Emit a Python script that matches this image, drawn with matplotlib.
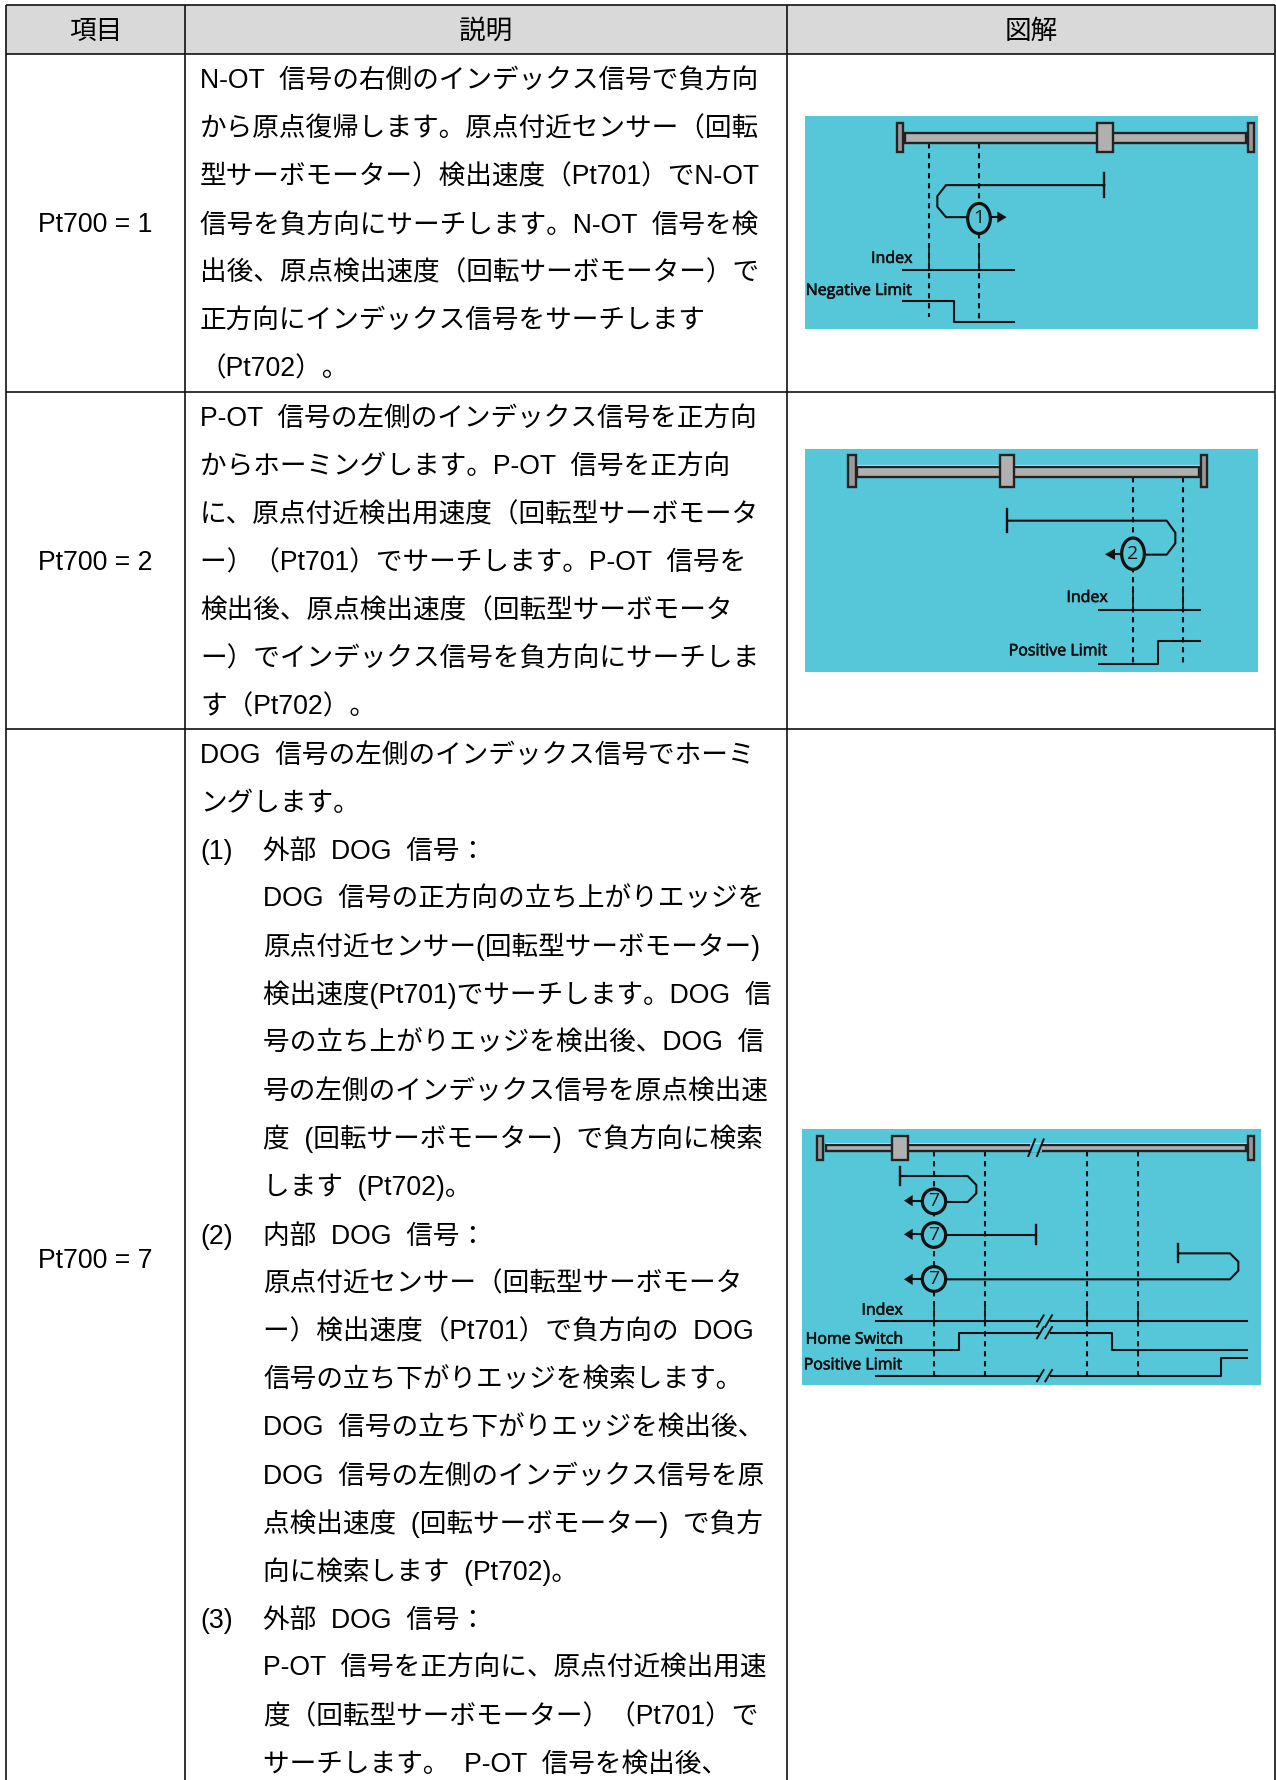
import matplotlib
matplotlib.use("Agg")
import matplotlib.pyplot as plt
import matplotlib.patheffects as pe
from matplotlib.patches import Ellipse, Polygon, Rectangle

plt.rcParams['font.family'] = ['Liberation Sans', 'Noto Sans CJK JP', 'DejaVu Sans']

W, H = 1276, 1780
BG = '#56C7D9'
INK = '#111111'

# table
headers = ['項目', '説明', '図解']
items = ['Pt700 = 1', 'Pt700 = 2', 'Pt700 = 7']
col_edges = [6, 185, 787, 1275]
row_edges = [5, 54, 392, 729]
item_y = [223, 561, 1259]
line_start = [79, 417, 754]

# "\t" separates a list marker from the indented text
row1 = ['N-OT  信号の右側のインデックス信号で負方向',
        'から原点復帰します。原点付近センサー（回転',
        '型サーボモーター）検出速度（Pt701）でN-OT',
        '信号を負方向にサーチします。N-OT  信号を検',
        '出後、原点検出速度（回転サーボモーター）で',
        '正方向にインデックス信号をサーチします',
        '（Pt702）。']
row2 = ['P-OT  信号の左側のインデックス信号を正方向',
        'からホーミングします。P-OT  信号を正方向',
        'に、原点付近検出用速度（回転型サーボモータ',
        'ー）（Pt701）でサーチします。P-OT  信号を',
        '検出後、原点検出速度（回転型サーボモータ',
        'ー）でインデックス信号を負方向にサーチしま',
        'す（Pt702）。']
row3 = ['DOG  信号の左側のインデックス信号でホーミ',
        'ングします。',
        '(1)\t外部  DOG  信号：',
        '\tDOG  信号の正方向の立ち上がりエッジを',
        '\t原点付近センサー(回転型サーボモーター)',
        '\t検出速度(Pt701)でサーチします。DOG  信',
        '\t号の立ち上がりエッジを検出後、DOG  信',
        '\t号の左側のインデックス信号を原点検出速',
        '\t度  (回転サーボモーター)  で負方向に検索',
        '\tします  (Pt702)。',
        '(2)\t内部  DOG  信号：',
        '\t原点付近センサー（回転型サーボモータ',
        '\tー）検出速度（Pt701）で負方向の  DOG',
        '\t信号の立ち下がりエッジを検索します。',
        '\tDOG  信号の立ち下がりエッジを検出後、',
        '\tDOG  信号の左側のインデックス信号を原',
        '\t点検出速度  (回転サーボモーター)  で負方',
        '\t向に検索します  (Pt702)。',
        '(3)\t外部  DOG  信号：',
        '\tP-OT  信号を正方向に、原点付近検出用速',
        '\t度（回転型サーボモーター）（Pt701）で',
        '\tサーチします。  P-OT  信号を検出後、']
rows = [row1, row2, row3]

# diagram 1, in units of 1/3 reference pixel
d1 = dict(
    box=[805, 116, 1258, 329], xlim=(45, 1404), ylim=(686, 48),
    rail=(346, 1367, 100, 128), stops=[(320, 338), (1373, 1391)], stop_y=(68, 156),
    carriage=(920, 968), dash_x=[417, 568], dash_y=[(128, 650), (128, 655)],
    paths=[[(943, 255), (468, 255), (442, 288), (442, 320), (468, 351), (535, 351)]],
    ticks=[(943, 220, 290)],
    circles=[(567, 355, 34, 45)], number='1',
    arrows=[(600, 351, 622, 650)],
    index_x=[417, 568], index_y=(445, 510),
    signals=[[(340, 510), (672, 510)],
             [(340, 603), (492, 603), (492, 664), (672, 664)]],
    labels=[('Index', 367, 476), ('Negative Limit', 367, 572)],
    slashes=[],
)
# diagram 2
d2 = dict(
    box=[805, 449, 1258, 672], xlim=(45, 1404), ylim=(726, 57),
    rail=(201, 1226, 111, 140), stops=[(175, 198), (1233, 1252)], stop_y=(76, 170),
    carriage=(629, 672), dash_x=[1029, 1180], dash_y=[(140, 705), (140, 705)],
    paths=[[(651, 272), (1130, 272), (1156, 308), (1156, 340), (1130, 374), (1064, 374)]],
    ticks=[(651, 236, 307)],
    circles=[(1029, 371, 34, 47)], number='2',
    arrows=[(995, 373, 975, 945)],
    index_x=[1029, 1180], index_y=(472, 541),
    signals=[[(927, 541), (1230, 541)],
             [(927, 703), (1105, 703), (1105, 634), (1230, 634)]],
    labels=[('Index', 953, 504), ('Positive Limit', 953, 664)],
    slashes=[],
)
# diagram 3
d3 = dict(
    box=[802, 1129, 1261, 1385], xlim=(36, 1413), ylim=(825, 57),
    rail=(108, 1367, 105, 122), stops=[(81, 100), (1374, 1392)], stop_y=(78, 150),
    carriage=(307, 355), dash_x=[431, 584, 890, 1043],
    dash_y=[(122, 795), (122, 795), (122, 795), (122, 795)],
    paths=[[(330, 198), (533, 198), (559, 225), (559, 250), (533, 276), (468, 276)],
           [(468, 374), (738, 374)],
           [(1165, 430), (1320, 430), (1345, 455), (1345, 482), (1320, 508), (468, 508)]],
    ticks=[(330, 172, 225), (738, 345, 402), (1165, 403, 456)],
    circles=[(432, 274, 35, 37), (432, 375, 35, 37), (432, 507, 35, 37)], number='7',
    arrows=[(398, 272, 368, 342), (398, 373, 368, 342), (398, 508, 368, 342)],
    index_x=[431, 584, 890, 1043], index_y=(578, 633),
    signals=[[(258, 633), (1372, 633)],
             [(258, 719), (508, 719), (508, 668), (966, 668), (966, 719), (1372, 719)],
             [(258, 797), (1293, 797), (1293, 745), (1372, 745)]],
    labels=[('Index', 338, 602), ('Home Switch', 340, 689), ('Positive Limit', 338, 766)],
    # gap x0, gap x1, y, slash half height
    slashes=[(725, 751, 113, 25), (751, 776, 633, 17), (751, 776, 668, 17), (751, 776, 797, 17)],
)
diagrams = [d1, d2, d3]


def draw_diagram(fig, d):
    x0, y0, x1, y1 = d['box']
    ax = fig.add_axes([x0 / W, 1 - y1 / H, (x1 - x0) / W, (y1 - y0) / H])
    ax.set_xlim(*d['xlim'])
    ax.set_ylim(*d['ylim'])
    ax.set_facecolor(BG)
    ax.set_xticks([])
    ax.set_yticks([])
    for s in ax.spines.values():
        s.set_visible(False)
    bold = [pe.withStroke(linewidth=0.45, foreground=INK)]

    def box(a, b, c, e, fc, z=3):
        ax.add_patch(Rectangle((a, c), b - a, e - c, fc=fc, ec='#222222', lw=1.7, zorder=z))

    xa, xb, ya, yb = d['rail']
    box(xa, xb, ya, yb, '#B0B0B0')
    ax.plot([xa, xb], [ya - 5, ya - 5], color='#E8F4F6', lw=0.8, zorder=2)
    for a, b in d['stops']:
        box(a, b, d['stop_y'][0], d['stop_y'][1], '#9A9A9A')
    box(d['carriage'][0], d['carriage'][1], d['stop_y'][0], d['stop_y'][1], '#B0B0B0', z=4)

    for x, (a, b) in zip(d['dash_x'], d['dash_y']):
        ax.plot([x, x], [a, b], color=INK, lw=1.5, ls=(0, (2.6, 2.2)), zorder=1)
    for p in d['paths']:
        ax.plot(*zip(*p), color=INK, lw=1.5, zorder=2)
    for x, a, b in d['ticks']:
        ax.plot([x, x], [a, b], color=INK, lw=1.7, zorder=2)
    for x in d['index_x']:
        ax.plot([x, x], d['index_y'], color=INK, lw=1.2, zorder=2)
    for p in d['signals']:
        ax.plot(*zip(*p), color=INK, lw=1.5, zorder=2)
    for cx, cy, rx, ry in d['circles']:
        ax.add_patch(Ellipse((cx, cy), 2 * rx, 2 * ry, fc=BG, ec=INK, lw=2.3, zorder=3))
        ax.text(cx, cy, d['number'], ha='center', va='center', fontsize=14,
                family='Open Sans', color=INK, zorder=4)
    for xs, y, xh, xt in d['arrows']:
        ax.plot([xs, xh], [y, y], color=INK, lw=1.5, zorder=2)
        ax.add_patch(Polygon([(xh, y - 17), (xh, y + 17), (xt, y)], fc=INK, ec='none', zorder=3))
    for text, x, y in d['labels']:
        ax.text(x, y, text, ha='right', va='center', fontsize=11.5,
                family='Open Sans', color=INK, path_effects=bold)
    for a, b, y, h in d['slashes']:
        ax.add_patch(Rectangle((a - 5, y - 12), b - a + 10, 24, fc=BG, ec='none', zorder=5))
        for x in (a, b):
            ax.plot([x - 10, x + 10], [y + h, y - h], color=INK, lw=1.4, zorder=6)


fig = plt.figure(figsize=(W / 100, H / 100), dpi=100, facecolor='white')
ax = fig.add_axes([0, 0, 1, 1])
ax.set_xlim(0, W)
ax.set_ylim(H, 0)
ax.axis('off')

ax.add_patch(Rectangle((col_edges[0], row_edges[0]), col_edges[-1] - col_edges[0],
                       row_edges[1] - row_edges[0], fc='#D9D9D9', ec='none'))
ax.hlines(row_edges, col_edges[0], col_edges[-1], color=INK, lw=1.2)
ax.vlines(col_edges, row_edges[0], H, color=INK, lw=1.2)

FS = 19.2
for i, h in enumerate(headers):
    ax.text((col_edges[i] + col_edges[i + 1]) / 2, 39, h, ha='center', va='baseline',
            fontsize=FS, color='#000000')
for it, y in zip(items, item_y):
    ax.text((col_edges[0] + col_edges[1]) / 2, y + 9, it, ha='center', va='baseline',
            fontsize=FS, color='#000000')
for lines, start in zip(rows, line_start):
    for n, line in enumerate(lines):
        y = start + n * 48.05 + 9
        if '\t' in line:
            marker, body = line.split('\t')
            if marker:
                ax.text(200, y, marker, va='baseline', fontsize=FS, color='#000000')
            ax.text(263, y, body, va='baseline', fontsize=FS, color='#000000')
        else:
            ax.text(200, y, line, va='baseline', fontsize=FS, color='#000000')

for d in diagrams:
    draw_diagram(fig, d)

fig.savefig('out.png', dpi=100)
